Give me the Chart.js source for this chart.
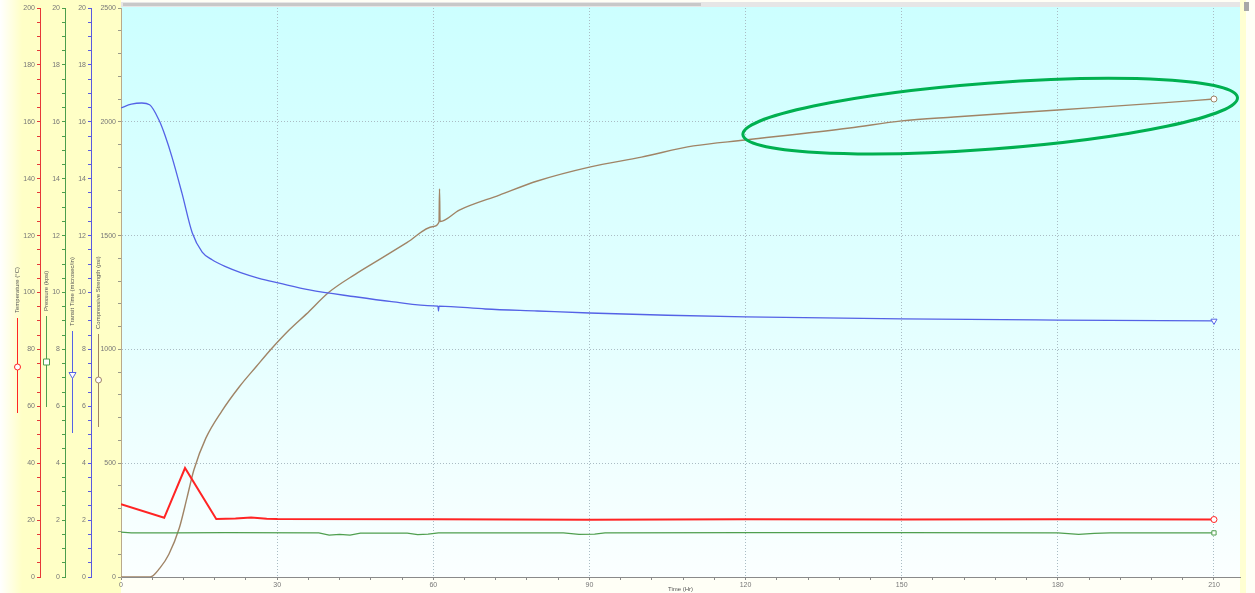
<!DOCTYPE html>
<html>
<head>
<meta charset="utf-8">
<script src="https://cdn.jsdelivr.net/npm/chart.js@4.4.1/dist/chart.umd.min.js"></script>
<style>
html, body { margin: 0; padding: 0; background: #fff; }
#wrap { width: 1255px; height: 593px; }
</style>
</head>
<body>
<div id="wrap"><canvas id="cementChart" width="1255" height="593"></canvas></div>
<script>
// readings taken off the plot
const timeTicks = [0, 30, 60, 90, 120, 150, 180, 210];

const tempHours = [0, 8.3, 12.3, 18.3, 22, 25, 28, 30, 60, 90, 120, 150, 180, 210];
const tempValues = [25.6, 20.8, 38.3, 20.4, 20.6, 20.9, 20.5, 20.4, 20.3, 20.1, 20.3, 20.2, 20.3, 20.2];

const pressureHours = [0, 2, 10, 20, 38, 40, 42, 44, 46, 55, 57, 59, 61, 85, 88, 91, 93, 120, 150, 180, 184, 187, 190, 210];
const pressureValues = [1.58, 1.55, 1.55, 1.56, 1.55, 1.47, 1.5, 1.47, 1.54, 1.54, 1.49, 1.51, 1.55, 1.55, 1.5, 1.51, 1.55, 1.56, 1.56, 1.55, 1.5, 1.53, 1.55, 1.55];

const transitHours = [0, 2, 4, 5.5, 7.3, 8.5, 9.8, 11.7, 13.7, 15.6, 17.5, 20.2, 23, 26.5, 30.4, 36.2, 45, 52, 60, 60.9, 61, 61.1, 70, 80, 90, 105, 120, 150, 180, 210];
const transitValues = [16.49, 16.62, 16.66, 16.6, 16.06, 15.5, 14.76, 13.5, 12.09, 11.42, 11.15, 10.9, 10.7, 10.5, 10.33, 10.09, 9.85, 9.68, 9.53, 9.52, 9.35, 9.52, 9.42, 9.35, 9.28, 9.2, 9.14, 9.07, 9.03, 9.0];

const strengthHours = [0, 5.6, 7.5, 9.2, 11.2, 12.7, 14, 16.3, 19.4, 22.7, 26, 29, 32.3, 35.6, 40, 45, 50, 55, 60, 61.1, 61.2, 61.3, 65, 72.7, 80, 90, 100, 110, 120, 140, 150, 160, 180, 200, 210];
const strengthValues = [0, 0, 40, 100, 215, 350, 470, 610, 730, 835, 925, 1005, 1085, 1155, 1252, 1330, 1400, 1470, 1540, 1560, 1705, 1562, 1612, 1678, 1740, 1801, 1845, 1894, 1920, 1973, 2004, 2021, 2052, 2083, 2100];

const tempColor = "#ff2424";
const pressureColor = "#4f9f4f";
const transitColor = "#5462e6";
const strengthColor = "#a08466";

function toPoints(xs, ys) {
    return xs.map((x, i) => ({ x: x, y: ys[i] }));
}

function stepTicks(min, max, step) {
    const out = [];
    for (let v = min; v <= max + 1e-9; v += step) {
        out.push({ value: +v.toFixed(4) });
    }
    return out;
}

function lastOnly(size) {
    return ctx => ctx.dataIndex === ctx.dataset.data.length - 1 ? size : 0;
}

const tickFont = { family: "Liberation Sans", size: 7 };
const gridDot = "#aabcc4";

function leftAxis(color, max, step, labelEvery, width, weight) {
    return {
        type: "linear",
        position: "left",
        min: 0,
        max: max,
        weight: weight,
        afterBuildTicks: s => { s.ticks = stepTicks(0, max, step); },
        afterFit: s => { s.width = width; },
        ticks: {
            autoSkip: false,
            padding: 2,
            color: "#777",
            font: tickFont,
            callback: v => (Math.abs(v / labelEvery - Math.round(v / labelEvery)) < 1e-6 ? v : "")
        },
        grid: { drawOnChartArea: false, color: color, tickLength: 3 },
        border: { color: color, width: 1 }
    };
}

const backdrop = {
    id: "backdrop",
    beforeDraw(chart) {
        const c = chart.ctx;
        const a = chart.chartArea;
        c.save();
        c.fillStyle = "#fffff6";
        c.fillRect(0, 0, chart.width, chart.height);
        const side = c.createLinearGradient(0, 0, 22, 0);
        side.addColorStop(0, "#ffffff");
        side.addColorStop(1, "#ffffc6");
        c.fillStyle = side;
        c.fillRect(0, 0, a.left, chart.height);
        c.fillStyle = "#ffffd2";
        c.fillRect(a.right, 0, 6, chart.height);
        const sky = c.createLinearGradient(0, 2, 0, a.bottom);
        sky.addColorStop(0, "#ccffff");
        sky.addColorStop(0.55, "#e3ffff");
        sky.addColorStop(1, "#fbffff");
        c.fillStyle = sky;
        c.fillRect(a.left, 2, a.right - a.left, a.bottom - 2);
        // scroll strip along the top
        c.fillStyle = "#e6e6e6";
        c.fillRect(a.left, 2, a.right - a.left, 5);
        c.fillStyle = "#c8c8c8";
        c.fillRect(a.left + 2, 3, 578, 3);
        c.fillStyle = "#a8a8a8";
        c.fillRect(a.right + 4, 2, 5, 9);
        c.restore();
    }
};

function drawMarker(c, style, x, y, color) {
    c.strokeStyle = color;
    c.fillStyle = "#ffffff";
    c.lineWidth = 1;
    c.beginPath();
    if (style === "rect") {
        c.rect(x - 3, y - 3, 6, 6);
    } else if (style === "tri") {
        c.moveTo(x - 3.5, y - 2.5);
        c.lineTo(x + 3.5, y - 2.5);
        c.lineTo(x, y + 3.5);
        c.closePath();
    } else {
        c.arc(x, y, 3, 0, Math.PI * 2);
    }
    c.fill();
    c.stroke();
}

const axisKeys = {
    id: "axisKeys",
    afterDraw(chart) {
        const c = chart.ctx;
        const keys = [
            { text: "Temperature (\u00B0C)", x: 17, textEnd: 313, top: 318, bottom: 413, mark: 367, style: "circle", color: tempColor },
            { text: "Pressure (kpsi)", x: 46, textEnd: 311, top: 316, bottom: 407, mark: 362, style: "rect", color: pressureColor },
            { text: "Transit Time (microsec/in)", x: 72, textEnd: 326, top: 331, bottom: 433, mark: 375, style: "tri", color: transitColor },
            { text: "Compressive Strength (psi)", x: 98, textEnd: 329, top: 334, bottom: 427, mark: 380, style: "circle", color: strengthColor }
        ];
        c.save();
        keys.forEach(k => {
            c.save();
            c.translate(k.x, k.textEnd);
            c.rotate(-Math.PI / 2);
            c.font = "6px 'Liberation Sans'";
            c.fillStyle = "#555";
            c.textAlign = "left";
            c.textBaseline = "middle";
            c.fillText(k.text, 0, 0);
            c.restore();
            c.strokeStyle = k.color;
            c.lineWidth = 1;
            c.beginPath();
            c.moveTo(k.x + 0.5, k.top);
            c.lineTo(k.x + 0.5, k.bottom);
            c.stroke();
            drawMarker(c, k.style, k.x + 0.5, k.mark, k.color);
        });

        // green highlight ring round the late strength gain
        const xs = chart.scales.x;
        const ys = chart.scales.yStr;
        const cx = xs.getPixelForValue(167);
        const cy = ys.getPixelForValue(2025);
        c.strokeStyle = "#00b050";
        c.lineWidth = 3;
        c.beginPath();
        c.ellipse(cx, cy, 248, 33, -4.3 * Math.PI / 180, 0, Math.PI * 2);
        c.stroke();
        c.restore();
    }
};

new Chart(document.getElementById("cementChart"), {
    type: "line",
    data: {
        datasets: [
            {
                label: "Temperature (\u00B0C)",
                data: toPoints(tempHours, tempValues),
                yAxisID: "yTemp",
                borderColor: tempColor,
                borderWidth: 2,
                tension: 0,
                pointStyle: "circle",
                pointRadius: lastOnly(3),
                pointBackgroundColor: "#fff",
                pointBorderColor: tempColor,
                pointBorderWidth: 1
            },
            {
                label: "Pressure (kpsi)",
                data: toPoints(pressureHours, pressureValues),
                yAxisID: "yPres",
                borderColor: pressureColor,
                borderWidth: 1.2,
                tension: 0,
                pointStyle: "rect",
                pointRadius: lastOnly(3),
                pointBackgroundColor: "#fff",
                pointBorderColor: pressureColor,
                pointBorderWidth: 1
            },
            {
                label: "Transit Time (microsec/in)",
                data: toPoints(transitHours, transitValues),
                yAxisID: "yTrans",
                borderColor: transitColor,
                borderWidth: 1.3,
                cubicInterpolationMode: "monotone",
                pointStyle: "triangle",
                rotation: 180,
                pointRadius: lastOnly(3.5),
                pointBackgroundColor: "#fff",
                pointBorderColor: transitColor,
                pointBorderWidth: 1
            },
            {
                label: "Compressive Strength (psi)",
                data: toPoints(strengthHours, strengthValues),
                yAxisID: "yStr",
                borderColor: strengthColor,
                borderWidth: 1.4,
                cubicInterpolationMode: "monotone",
                pointStyle: "circle",
                pointRadius: lastOnly(3),
                pointBackgroundColor: "#fff",
                pointBorderColor: strengthColor,
                pointBorderWidth: 1
            }
        ]
    },
    options: {
        responsive: false,
        animation: false,
        layout: { padding: { left: 0, right: 15, top: 8, bottom: 0 } },
        plugins: {
            legend: { display: false },
            tooltip: { enabled: false }
        },
        scales: {
            x: {
                type: "linear",
                min: 0,
                max: 215,
                afterBuildTicks: s => { s.ticks = stepTicks(0, 210, 6); },
                afterFit: s => { s.height = 16; },
                ticks: {
                    autoSkip: false,
                    maxRotation: 0,
                    padding: 1,
                    color: "#777",
                    font: tickFont,
                    callback: v => (timeTicks.includes(v) ? v : "")
                },
                grid: {
                    color: ctx => (ctx.tick && ctx.tick.value % 30 === 0 && ctx.tick.value > 0 ? gridDot : "rgba(0,0,0,0)"),
                    tickColor: "#8a8a8a",
                    tickLength: 3
                },
                border: { color: "#8a8a8a", dash: [1, 2] },
                title: {
                    display: true,
                    text: "Time (Hr)",
                    color: "#555",
                    font: { family: "Liberation Sans", size: 6 },
                    padding: 0
                }
            },
            yTemp: leftAxis("#e63838", 200, 5, 20, 40, 4),
            yPres: leftAxis("#4c9e4c", 20, 0.5, 2, 25, 3),
            yTrans: leftAxis("#5a5ae0", 20, 0.5, 2, 26, 2),
            yStr: {
                type: "linear",
                position: "left",
                min: 0,
                max: 2500,
                weight: 1,
                afterBuildTicks: s => { s.ticks = stepTicks(0, 2500, 100); },
                afterFit: s => { s.width = 30; },
                ticks: {
                    autoSkip: false,
                    padding: 2,
                    color: "#777",
                    font: tickFont,
                    callback: v => (v % 500 === 0 ? v : "")
                },
                grid: {
                    color: ctx => (ctx.tick && ctx.tick.value % 500 === 0 && ctx.tick.value > 0 && ctx.tick.value < 2500 ? gridDot : "rgba(0,0,0,0)"),
                    tickColor: "#9a9a8a",
                    tickLength: 3
                },
                border: { color: "#b9aa8c", dash: [1, 2] }
            }
        }
    },
    plugins: [backdrop, axisKeys]
});
</script>
</body>
</html>
